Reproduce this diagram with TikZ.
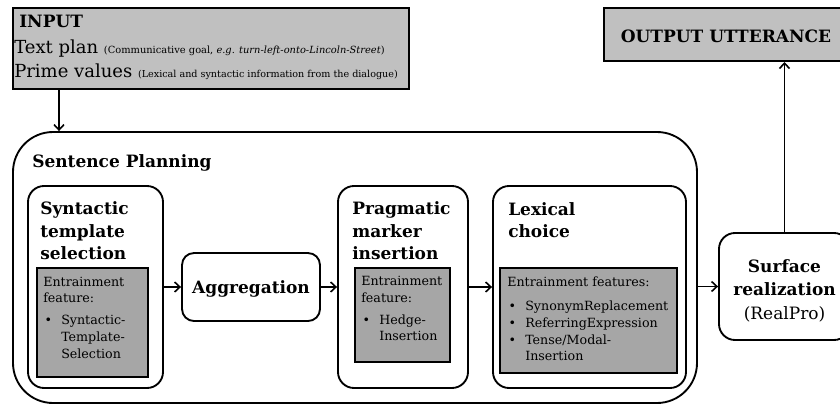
\documentclass[tikz,border=0pt]{standalone}
\usepackage{fontspec}
\setmainfont{DejaVu Serif}
\usepackage{tikz}
\usetikzlibrary{fit,calc,arrows.meta}
\usepackage{xcolor}
\definecolor{iogray}{HTML}{C0C0C0}
\definecolor{featgray}{HTML}{A6A6A6}

\newcommand{\fitem}{\hspace*{1pt}\makebox[12.5pt][l]{\textbullet}}
\newcommand{\fcont}{\hspace*{13.5pt}}

\begin{document}
\begin{tikzpicture}[x=0.75pt,y=-0.75pt,
	iobox/.style={draw,line width=1.5pt,fill=iogray,inner sep=0pt},
	stagebox/.style={draw,line width=1.4pt,rounded corners=12pt,inner sep=0pt},
	featbox/.style={draw,line width=1.1pt,fill=featgray,inner sep=0pt},
	head/.style={font=\fontsize{12.75}{16.9}\selectfont\bfseries,align=left,inner sep=0pt},
	feat/.style={font=\fontsize{9.5}{12.6}\selectfont,align=left,anchor=north west,inner sep=0pt},
	flow/.style={-{Straight Barb[length=4pt,width=7.5pt]},line width=1.2pt}]
\useasboundingbox (0,0) rectangle (840,405);
\clip (0,0) rectangle (840,405);

% input and output
\node[iobox,fit={(13,8) (409,89)}] (input) {};
\node[head,anchor=base west] (inhead) at (19,27) {INPUT};
\node[anchor=base west,inner sep=0pt,font=\fontsize{13.5}{16}\selectfont] (inplan) at (14,53) {Text plan {\fontsize{7.4}{8}\selectfont (Communicative goal, \textit{e.g. turn-left-onto-Lincoln-Street})}};
\node[anchor=base west,inner sep=0pt,font=\fontsize{13.5}{16}\selectfont] (inprime) at (14,77) {Prime values {\fontsize{7.2}{8}\selectfont (Lexical and syntactic information from the dialogue)}};
\node[iobox,fit={(604,8) (850,61)}] (out) {};
\node[head,anchor=base] (outtext) at (726,42) {OUTPUT UTTERANCE};

% sentence planning
\node[stagebox,rounded corners=30pt,fit={(13,132) (697,403)}] (plan) {};
\node[head,anchor=base west] (planhead) at (32,167) {Sentence Planning};

\node[stagebox,fit={(28,186) (163,388)}] (syn) {};
\node[head,anchor=north west] (synhead) at (40,201.5) {Syntactic\\template\\selection};
\node[featbox,fit={(37,268) (148,377)}] (synfeat) {};
\node[feat] (synfeattext) at (43,276.5) {Entrainment\\feature:\\[3.75pt]\fitem Syntactic-\\\fcont Template-\\\fcont Selection};

\node[stagebox,rounded corners=9pt,fit={(182,253) (320,321)}] (agg) {};
\node[head,anchor=base] (aggtext) at (251,293) {Aggregation};

\node[stagebox,fit={(338,186) (468,388)}] (prag) {};
\node[head,anchor=north west] (praghead) at (352,201.5) {Pragmatic\\marker\\insertion};
\node[featbox,fit={(355,268) (450,362)}] (pragfeat) {};
\node[feat] (pragfeattext) at (361,276) {Entrainment\\feature:\\[3.75pt]\fitem Hedge-\\\fcont Insertion};

\node[stagebox,fit={(493,186) (686,388)}] (lex) {};
\node[head,anchor=north west] (lexhead) at (508,202) {Lexical\\choice};
\node[featbox,fit={(500,268) (677,373)}] (lexfeat) {};
\node[feat] (lexfeattext) at (507,276.5) {Entrainment features:\\[5.5pt]\fitem SynonymReplacement\\\fitem ReferringExpression\\\fitem Tense/Modal-\\\fcont Insertion};

% surface realization
\node[stagebox,fit={(719,233) (850,340)}] (surf) {};
\node[anchor=north,align=center,inner sep=0pt,font=\fontsize{12.75}{17.6}\selectfont] (surftext) at (784.5,259) {\textbf{Surface}\\\textbf{realization}\\(RealPro)};

% connectors
\coordinate (inx) at (59,0);
\draw[flow] (input.south -| inx) -- (plan.north -| inx);
\draw[flow] (syn) -- (agg);
\draw[flow] (agg) -- (prag);
\draw[flow] (prag) -- (lex);
\draw[flow] (plan.east |- surf) -- (surf);
\draw[flow] (surf.north) -- (out.south -| surf.north);
\end{tikzpicture}
\end{document}
